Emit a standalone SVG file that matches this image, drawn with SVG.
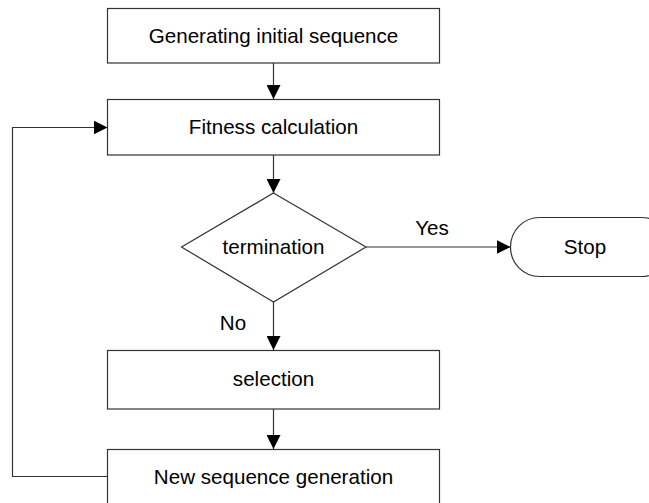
<svg xmlns="http://www.w3.org/2000/svg" width="649" height="503" viewBox="0 0 649 503">
  <style>
    .box { fill: #ffffff; stroke: #333333; stroke-width: 1.2; }
    .edge { fill: none; stroke: #333333; stroke-width: 1.2; }
    .label { font-family: "Liberation Sans", Arial, sans-serif; font-size: 20.6px; fill: #000000; text-anchor: middle; }
  </style>
  <defs>
    <marker id="arrow" viewBox="0 0 14 14" refX="14" refY="7" markerWidth="14" markerHeight="14" markerUnits="userSpaceOnUse" orient="auto">
      <path d="M0,0 L14,7 L0,14 Z" fill="#000000"/>
    </marker>
  </defs>
  <rect width="649" height="503" fill="#ffffff"/>

  <g id="connectors">
    <path class="edge" d="M273.5,63 V99" marker-end="url(#arrow)"/>
    <path class="edge" d="M273.5,155 V193" marker-end="url(#arrow)"/>
    <path class="edge" d="M366,247 H510.5" marker-end="url(#arrow)"/>
    <path class="edge" d="M273.5,302 V350" marker-end="url(#arrow)"/>
    <path class="edge" d="M273.5,409 V449" marker-end="url(#arrow)"/>
    <path class="edge" d="M107.5,476.5 H12.5 V127.5 H107.5" marker-end="url(#arrow)"/>
    <text class="label" x="432" y="235">Yes</text>
    <text class="label" x="233" y="330">No</text>
  </g>

  <g id="node-init">
    <rect class="box" x="107.5" y="8.5" width="332" height="54.5"/>
    <text class="label" x="273.5" y="43">Generating initial sequence</text>
  </g>

  <g id="node-fitness">
    <rect class="box" x="107.5" y="99.5" width="332" height="55.5"/>
    <text class="label" x="273.5" y="134">Fitness calculation</text>
  </g>

  <g id="node-termination">
    <polygon class="box" points="273.5,193 366,247 273.5,302 181.5,247"/>
    <text class="label" x="273.5" y="254">termination</text>
  </g>

  <g id="node-stop">
    <rect class="box" x="510.5" y="217.5" width="160" height="59" rx="29" ry="29.5"/>
    <text class="label" x="585" y="254">Stop</text>
  </g>

  <g id="node-selection">
    <rect class="box" x="107.5" y="350.5" width="332" height="58.5"/>
    <text class="label" x="273.5" y="386">selection</text>
  </g>

  <g id="node-newseq">
    <rect class="box" x="107.5" y="449.5" width="332" height="58"/>
    <text class="label" x="273.5" y="484">New sequence generation</text>
  </g>
</svg>
